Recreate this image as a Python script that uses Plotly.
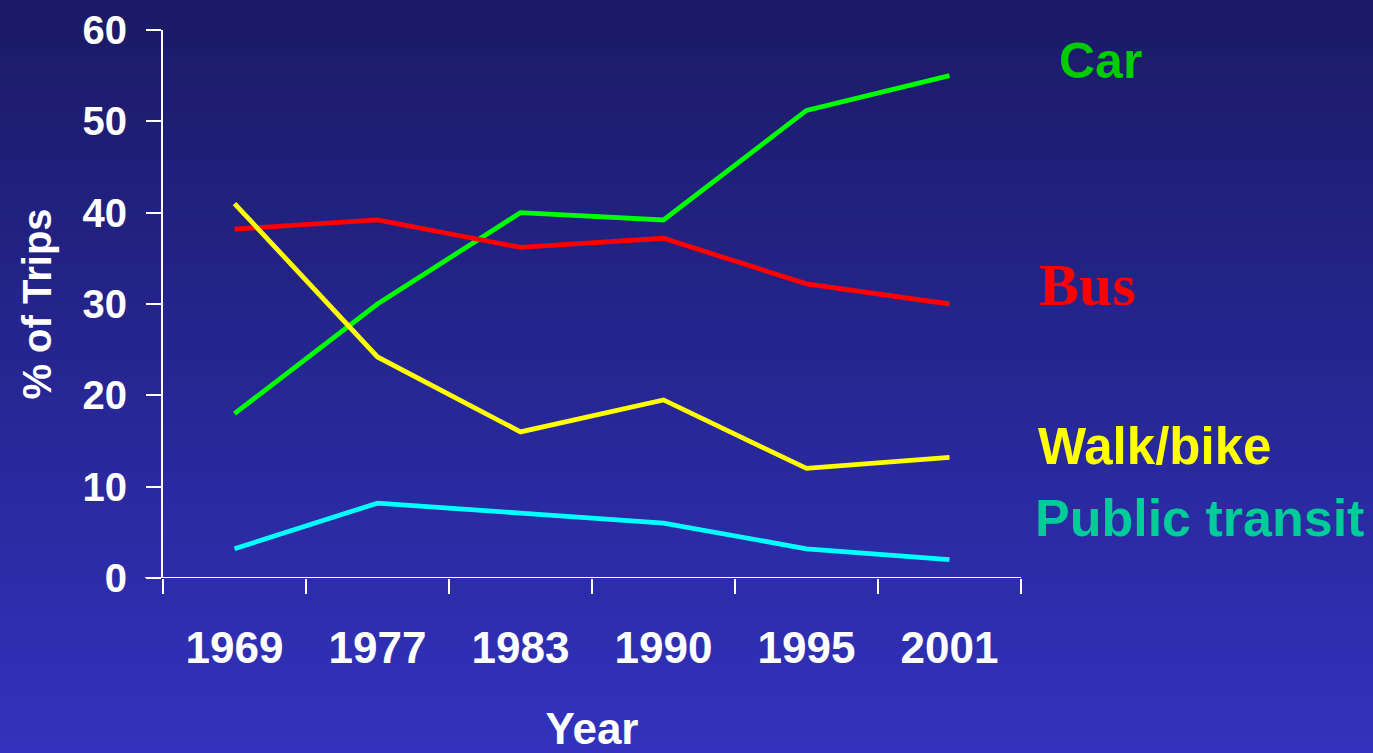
import plotly.graph_objects as go

years = ["1969", "1977", "1983", "1990", "1995", "2001"]
car = [18.0, 30.0, 40.0, 39.2, 51.2, 55.0]
bus = [38.2, 39.2, 36.2, 37.2, 32.2, 30.0]
walk_bike = [41.0, 24.2, 16.0, 19.5, 12.0, 13.2]
public_transit = [3.2, 8.2, 7.1, 6.0, 3.2, 2.0]
y_ticks = [0, 10, 20, 30, 40, 50, 60]

series = [
    ("Car", car, "#00ff00"),
    ("Bus", bus, "#ff0000"),
    ("Walk/bike", walk_bike, "#ffff00"),
    ("Public transit", public_transit, "#00ffff"),
]

W, H = 1373, 753
L, R, T, B = 163, 352, 30, 175

fig = go.Figure()
for name, vals, col in series:
    fig.add_trace(go.Scatter(x=years, y=vals, mode="lines", name=name,
                             line=dict(color=col, width=4.8), showlegend=False))

# background gradient
shapes = []
n = 80
top = (27, 26, 102)
bot = (50, 50, 190)
ph = H - T - B
for i in range(n):
    f = i / (n - 1)
    c = tuple(int(round(top[k] + (bot[k] - top[k]) * f)) for k in range(3))
    py0 = i * H / n - (20 if i == 0 else 0)
    py1 = (i + 1) * H / n + (20 if i == n - 1 else 1)
    shapes.append(dict(type="rect", xref="paper", yref="paper",
                       x0=-1, x1=2,
                       y0=(H - B - py1) / ph, y1=(H - B - py0) / ph,
                       fillcolor="rgb(%d,%d,%d)" % c, line=dict(width=0),
                       layer="below"))
# x-axis baseline extending slightly left of the y axis
shapes.append(dict(type="line", xref="paper", yref="y", x0=-18 / (W - L - R), x1=1,
                   y0=0, y1=0, line=dict(color="white", width=2)))

sans = "Liberation Sans Narrow, Arial Narrow, Liberation Sans, Arial, sans-serif"

annotations = [
    dict(text="<b>Car</b>", x=1.042, y=56.6, font=dict(color="#00cc00", size=50, family="Liberation Sans, Arial")),
    dict(text="<b>Bus</b>", x=1.019, y=32.1, font=dict(color="#ff0000", size=60, family="Liberation Serif, Times New Roman")),
    dict(text="<b>Walk/bike</b>", x=1.018, y=14.4, font=dict(color="#ffff00", size=51, family="Liberation Sans, Arial")),
    dict(text="<b>Public transit</b>", x=1.014, y=6.6, font=dict(color="#00cc99", size=52, family="Liberation Sans, Arial")),
]
for a in annotations:
    a.update(xref="paper", yref="y", xanchor="left", yanchor="middle", showarrow=False)

fig.update_layout(
    width=W, height=H,
    margin=dict(l=L, r=R, t=T, b=B, autoexpand=False),
    paper_bgcolor="rgb(38,38,146)",
    plot_bgcolor="rgba(0,0,0,0)",
    shapes=shapes,
    annotations=annotations,
    xaxis=dict(
        type="category", range=[-0.5, 5.5], tickson="boundaries", automargin=False,
        ticks="outside", ticklen=15, tickwidth=2, tickcolor="white",
        showline=False, showgrid=False, zeroline=False,
        tickfont=dict(color="white", size=44, family=sans, weight="bold"),
        ticklabelstandoff=40,
        title=dict(text="Year", font=dict(color="white", size=44, family=sans, weight="bold"), standoff=48),
    ),
    yaxis=dict(
        range=[0, 60], tickvals=y_ticks, ticks="outside", ticklen=15, tickwidth=2,
        tickcolor="white", showline=True, linecolor="white", linewidth=2,
        showgrid=False, zeroline=False, automargin=False,
        tickfont=dict(color="white", size=40, family=sans, weight="bold"),
        ticklabelstandoff=11,
        title=dict(text="% of Trips", font=dict(color="white", size=40, family=sans, weight="bold"), standoff=19),
    ),
)

fig.write_html("out.html", config={"displayModeBar": False},
               post_script="document.body.style.margin='0px';document.body.style.overflow='hidden';")
